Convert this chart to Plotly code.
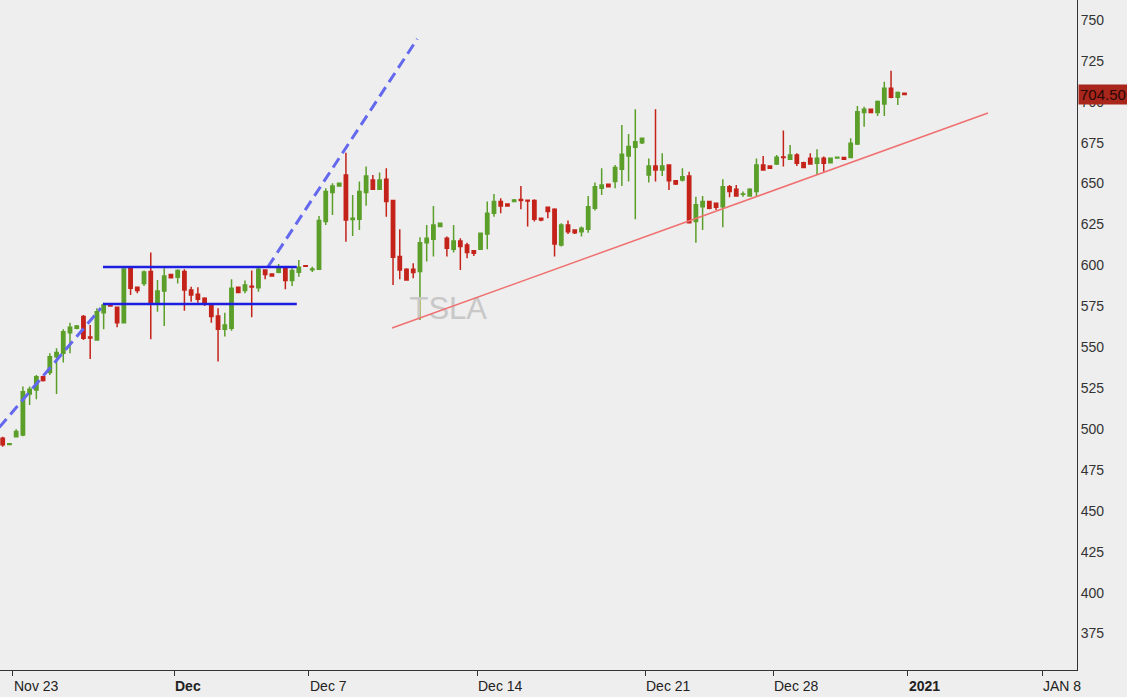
import plotly.graph_objects as go

# ---------------- data ----------------
# bar index on a trading-time axis (5 bars per session, weekends/holidays removed)
bar_index = list(range(135))

opens = [494.3, 490.6, 495.3, 496.4, 521.4, 523.9, 532.0, 534.5, 544.2, 546.3,
         558.9, 561.5, 568.7, 556.2, 554.4, 571.1, 575.8, 574.4, 565.0, 598.2,
         586.6, 589.0, 596.2, 576.8, 584.4, 594.5, 592.7, 596.2, 585.0, 582.3,
         579.9, 575.8, 569.1, 560.9, 561.5, 586.6, 584.6, 587.2, 586.4, 597.2,
         594.7, 595.8, 598.8, 590.7, 595.8, 599.8, 597.4, 597.6, 626.8, 644.5,
         648.5, 655.3, 628.0, 628.2, 644.5, 652.2, 646.5, 652.6, 639.6, 605.4,
         597.6, 597.6, 596.2, 613.9, 615.9, 623.7, 616.6, 609.8, 614.9, 612.5,
         609.0, 609.8, 619.2, 631.8, 639.0, 637.5, 639.0, 640.2, 639.8, 639.6,
         628.8, 635.5, 634.3, 612.5, 624.7, 621.7, 620.6, 622.1, 634.9, 647.1,
         649.6, 651.2, 658.7, 666.9, 672.2, 675.0, 655.3, 660.8, 658.3, 661.4,
         651.8, 652.2, 654.7, 626.8, 635.9, 639.0, 638.0, 635.9, 648.1, 646.5,
         643.4, 642.4, 645.1, 661.4, 660.8, 662.0, 666.3, 664.8, 667.5, 662.8,
         665.5, 662.4, 665.5, 662.8, 665.7, 665.9, 665.9, 674.2, 693.4, 695.4,
         693.4, 698.7, 708.2, 702.7, 705.2]

highs = [495.3, 491.5, 499.8, 525.9, 525.9, 533.0, 532.5, 546.3, 549.3, 560.9,
         565.0, 563.6, 569.7, 563.6, 573.8, 577.2, 576.0, 574.8, 598.2, 599.2,
         587.0, 596.8, 607.8, 591.1, 598.2, 594.8, 597.6, 597.6, 587.0, 586.6,
         580.5, 576.8, 573.8, 571.1, 591.5, 587.0, 590.7, 596.8, 598.8, 597.6,
         595.0, 600.9, 599.2, 598.2, 603.3, 600.0, 599.2, 630.2, 647.1, 650.2,
         650.5, 668.9, 643.0, 651.2, 660.4, 655.3, 656.7, 659.3, 640.0, 622.1,
         598.2, 601.3, 617.2, 624.7, 636.3, 626.0, 617.6, 624.7, 616.6, 613.9,
         609.2, 620.0, 639.0, 643.6, 641.0, 638.0, 640.5, 648.5, 640.0, 640.4,
         629.0, 635.7, 634.9, 625.7, 627.4, 621.9, 623.7, 642.4, 650.6, 659.3,
         650.0, 661.4, 685.8, 680.3, 695.4, 677.7, 665.4, 695.4, 668.5, 661.6,
         652.0, 659.3, 657.3, 642.0, 642.4, 639.2, 638.2, 652.6, 649.2, 649.2,
         645.1, 647.1, 665.4, 666.9, 661.0, 667.5, 682.4, 673.6, 668.5, 663.4,
         668.5, 671.0, 666.5, 665.9, 666.3, 666.1, 677.7, 697.4, 697.0, 695.6,
         700.7, 712.3, 719.0, 706.2, 705.4]

lows = [489.2, 490.2, 495.0, 495.5, 514.7, 518.2, 529.0, 533.0, 521.4, 540.6,
        546.3, 560.9, 554.4, 542.8, 554.0, 560.9, 575.0, 562.2, 564.6, 581.9,
        583.0, 587.4, 554.8, 571.7, 563.0, 592.0, 589.0, 572.3, 577.8, 577.2,
        575.2, 565.0, 541.2, 556.5, 560.1, 583.0, 583.0, 568.3, 583.9, 591.5,
        593.2, 595.2, 585.4, 587.4, 593.1, 599.0, 596.0, 597.2, 624.7, 630.8,
        648.0, 614.5, 618.0, 621.7, 636.4, 646.1, 646.1, 629.8, 588.0, 591.5,
        590.7, 592.1, 566.6, 602.3, 605.4, 623.4, 605.4, 607.8, 597.2, 604.3,
        605.8, 609.4, 609.8, 629.8, 631.8, 636.0, 638.8, 634.3, 623.7, 626.8,
        627.0, 628.8, 605.4, 611.5, 619.2, 619.2, 617.6, 620.0, 633.5, 643.0,
        647.8, 647.1, 648.5, 651.2, 628.2, 674.2, 650.6, 651.2, 654.7, 646.1,
        649.2, 651.2, 625.8, 613.9, 621.7, 634.3, 633.9, 623.3, 641.6, 642.0,
        642.0, 642.0, 642.0, 657.9, 659.0, 661.4, 660.4, 664.4, 660.8, 659.3,
        661.8, 655.3, 657.3, 662.4, 665.5, 664.6, 665.5, 673.6, 684.8, 693.0,
        691.3, 691.3, 702.1, 698.1, 704.2]

closes = [490.3, 491.0, 498.4, 522.8, 524.3, 532.0, 529.6, 544.2, 546.7, 559.5,
          562.2, 563.0, 555.4, 555.6, 571.7, 575.8, 575.2, 565.0, 597.8, 586.0,
          584.6, 595.9, 576.8, 584.4, 593.5, 592.5, 596.8, 585.0, 581.9, 579.3,
          576.8, 568.7, 560.9, 563.6, 586.0, 583.4, 588.0, 586.8, 597.6, 594.5,
          593.5, 598.8, 590.7, 596.8, 598.8, 599.4, 597.8, 627.4, 645.1, 648.5,
          650.2, 627.8, 628.8, 645.1, 654.7, 646.5, 652.2, 639.0, 605.0, 597.2,
          591.1, 595.6, 613.9, 616.6, 624.7, 625.7, 610.4, 614.9, 611.5, 607.8,
          607.4, 619.6, 631.8, 639.0, 636.3, 636.3, 640.0, 639.6, 639.4, 628.2,
          627.8, 632.9, 613.1, 624.7, 620.6, 620.0, 622.7, 635.9, 648.1, 649.2,
          648.1, 659.9, 667.9, 672.6, 675.6, 677.7, 660.8, 658.3, 660.8, 651.8,
          649.8, 654.2, 626.1, 637.0, 639.0, 634.9, 635.5, 648.1, 645.1, 642.4,
          643.6, 646.5, 661.4, 658.3, 659.3, 666.1, 665.9, 667.5, 662.4, 659.9,
          662.0, 665.5, 662.4, 665.5, 666.1, 664.8, 674.6, 693.9, 695.4, 693.4,
          700.1, 708.2, 702.7, 705.6, 704.5]

# x-axis ticks: position on the bar-index axis and label
tick_pos = [1.5, 25.5, 45.5, 70.5, 95.5, 114.5, 134.5, 154.5]
tick_text = ["Nov 23", "<b>Dec</b>", "Dec 7", "Dec 14", "Dec 21", "Dec 28", "<b>2021</b>", "JAN 8"]

y_ticks = [375, 400, 425, 450, 475, 500, 525, 550, 575, 600, 625, 650, 675, 700, 725, 750]

# drawn studies (bar index, price)
box_top_x, box_top_y = [14.9, 43.7], [599.0, 599.0]
box_bot_x, box_bot_y = [14.9, 43.7], [576.4, 576.4]
chan1_x, chan1_y = [-0.5, 14.6], [501.0, 573.9]
chan2_x, chan2_y = [39.4, 61.6], [599.0, 738.4]
trend_x, trend_y = [57.85, 146.4], [561.7, 693.1]

symbol = "TSLA"
symbol_pos = (66.2, 572.1)
last_price = 704.50

# ---------------- figure ----------------
UP = "#5b9f2a"
DOWN = "#c4231a"
BG = "#eeeeee"
FONT = "Liberation Sans, Arial, sans-serif"

fig = go.Figure()

fig.add_trace(go.Scatter(
    x=[symbol_pos[0]], y=[symbol_pos[1]], mode="text", text=[symbol],
    textfont=dict(family=FONT, size=31, color="#c8c8c8"),
    hoverinfo="skip"))

fig.add_trace(go.Candlestick(
    x=bar_index, open=opens, high=highs, low=lows, close=closes,
    increasing=dict(line=dict(color=UP, width=1.5), fillcolor=UP),
    decreasing=dict(line=dict(color=DOWN, width=1.5), fillcolor=DOWN),
    whiskerwidth=0))

fig.add_trace(go.Scatter(x=trend_x, y=trend_y, mode="lines",
                         line=dict(color="#f07070", width=1.5), hoverinfo="skip"))
fig.add_trace(go.Scatter(x=chan1_x, y=chan1_y, mode="lines",
                         line=dict(color="#6468ee", width=3, dash="11px,6px"), hoverinfo="skip"))
fig.add_trace(go.Scatter(x=chan2_x, y=chan2_y, mode="lines",
                         line=dict(color="#6468ee", width=3, dash="11px,6px"), hoverinfo="skip"))
fig.add_trace(go.Scatter(x=box_top_x, y=box_top_y, mode="lines",
                         line=dict(color="#1e1ee0", width=2.5), hoverinfo="skip"))
fig.add_trace(go.Scatter(x=box_bot_x, y=box_bot_y, mode="lines",
                         line=dict(color="#1e1ee0", width=2.5), hoverinfo="skip"))

annotations = []
for p, t in zip(tick_pos, tick_text):
    annotations.append(dict(x=p, y=0, xref="x", yref="paper", text=t,
                            xanchor="left", yanchor="top", yshift=-6, xshift=-1,
                            showarrow=False, font=dict(family=FONT, size=14, color="#222222")))
annotations.append(dict(x=1, y=last_price, xref="paper", yref="y", text=f"{last_price:.2f}",
                        xanchor="left", yanchor="middle", xshift=1, showarrow=False,
                        bgcolor="#a8261b", borderpad=1,
                        font=dict(family=FONT, size=15, color="#2a0604")))

fig.update_layout(
    width=1127, height=697,
    margin=dict(l=0, r=50, t=0, b=27),
    paper_bgcolor=BG, plot_bgcolor=BG,
    showlegend=False,
    font=dict(family=FONT, size=14, color="#222222"),
    annotations=annotations,
    xaxis=dict(range=[-0.401, 159.63], tickvals=tick_pos, showticklabels=False,
               ticks="outside", ticklen=5, tickcolor="#333333", tickwidth=1,
               showline=True, linecolor="#333333", linewidth=1,
               showgrid=False, zeroline=False, rangeslider=dict(visible=False)),
    yaxis=dict(side="right", range=[352.7, 762.2], tickvals=y_ticks,
               showline=True, linecolor="#333333", linewidth=1, ticks="",
               showgrid=False, zeroline=False,
               tickfont=dict(family=FONT, size=14, color="#333333")),
)

fig.write_html("out.html")
